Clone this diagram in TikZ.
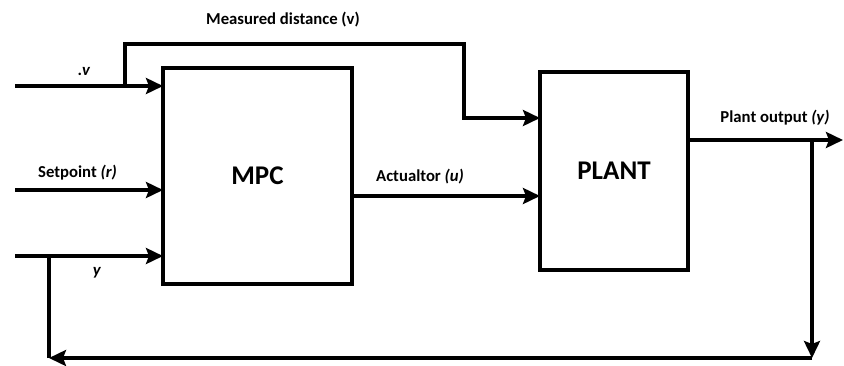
\documentclass[tikz,border=0pt]{standalone}
\usepackage{fontspec}
\setmainfont{Carlito}
\usetikzlibrary{arrows.meta, positioning}

\tikzset{
  sig/.style={line width=4.5pt},
  block/.style={draw, line width=4.5pt, outer sep=0pt, inner sep=0pt,
    font=\bfseries\fontsize{27}{30}\selectfont},
  lbl/.style={inner sep=0pt, font=\bfseries\fontsize{16.7}{19}\selectfont},
}

\begin{document}
\begin{tikzpicture}[x=1pt, y=-1pt, >={Stealth[length=17pt, width=16pt, inset=3pt]}]
  \useasboundingbox (0,0) rectangle (844,365);

  % blocks
  \node[block, minimum width=189pt, minimum height=216pt] (mpc) at (257.5,176) {MPC};
  \node[block, minimum width=148pt, minimum height=198pt] (plant) at (614,171) {PLANT};

  % input ends and branch points
  \coordinate (vin) at (15,86);
  \coordinate (rin) at (15,190);
  \coordinate (yin) at (15,256);
  \coordinate (vtap) at (125,86);
  \coordinate (vtop) at (464,44);
  \coordinate (yout) at (843,140);
  \coordinate (ytap) at (812,140);
  \coordinate (fbr) at (812,358);
  \coordinate (fbl) at (49,358);

  % inputs to MPC
  \draw[sig, ->] (vin) -- (vin -| mpc.west);
  \draw[sig, ->] (rin) -- (rin -| mpc.west);
  \draw[sig, ->] (yin) -- (yin -| mpc.west);

  % measured distance to plant
  \draw[sig, ->] (vtap) |- (vtop) |- (plant.west |- 0,118);

  % actuator
  \draw[sig, ->] (mpc.east |- 0,196) -- (plant.west |- 0,196);

  % plant output and feedback
  \draw[sig, ->] (yout -| plant.east) -- (yout);
  \draw[sig, ->] (ytap) -- (fbr);
  \draw[sig, ->] (fbr) -- (fbl);
  \draw[sig] (fbl) -- (fbl |- yin);

  % labels
  \node[lbl] (lmeas) at (283,20) {Measured distance (v)};
  \node[lbl] (lv) at (84,72) {.\textit{v}};
  \node[lbl] (lset) at (77.5,173) {Setpoint \textit{(r)}};
  \node[lbl] (ly) at (97,273) {\textit{y}};
  \node[lbl] (lact) at (420,177) {Actualtor \textit{(u)}};
  \node[lbl] (lout) at (775,118) {Plant output \textit{(y)}};
\end{tikzpicture}
\end{document}
